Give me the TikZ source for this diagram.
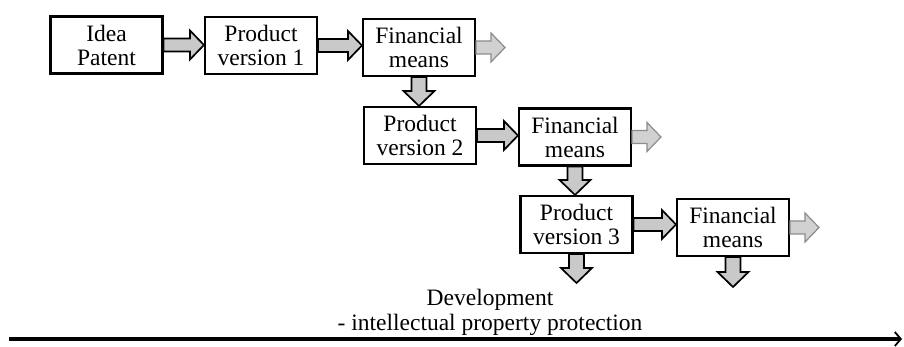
\documentclass[tikz,border=0pt]{standalone}
\usepackage{fontspec}
\setmainfont{Liberation Serif}
\usetikzlibrary{calc,arrows.meta}
\def\sw{6.5}
\def\hw{14.5}
\def\hl{14}
% horizontal block arrow: style, start point, target point (x taken from target, y from start)
\newcommand\harr[3]{%
  \draw[#1] ($(#2)+(0,-\sw)$) -- ($(#3|-#2)+(-\hl,-\sw)$) -- ($(#3|-#2)+(-\hl,-\hw)$) -- (#3|-#2)
    -- ($(#3|-#2)+(-\hl,\hw)$) -- ($(#3|-#2)+(-\hl,\sw)$) -- ($(#2)+(0,\sw)$) -- cycle;}
% vertical (downward) block arrow
\newcommand\varr[3]{%
  \draw[#1] ($(#2)+(-\sw-1,0)$) -- ($(#2|-#3)+(-\sw-1,-\hl-1)$) -- ($(#2|-#3)+(-\hw-1,-\hl-1)$) -- (#2|-#3)
    -- ($(#2|-#3)+(\hw+1,-\hl-1)$) -- ($(#2|-#3)+(\sw+1,-\hl-1)$) -- ($(#2)+(\sw+1,0)$) -- cycle;}
\tikzset{
  box/.style={draw=black, line width=2.1pt, fill=white, minimum width=112pt, minimum height=57pt,
    inner sep=0pt, align=center, font=\fontsize{23.5}{24}\selectfont},
  darr/.style={draw=black, fill=black!21, line width=1.7pt, line join=miter},
  larr/.style={draw=black!45, fill=black!18, line width=1.2pt, line join=miter},
  lbl/.style={align=center, inner sep=0pt, font=\fontsize{23.5}{25}\selectfont},
  timeline/.style={line width=3.2pt, -{Straight Barb[length=6pt,width=14pt,line width=1.8pt]}}
}
\begin{document}
\begin{tikzpicture}[x=1pt,y=-1pt]
\useasboundingbox (0,0) rectangle (904,347);
\node[box] (b1) at (106.5,45) {Idea\\Patent};
\node[box] (b2) at (261,45.5) {Product\\version 1};
\node[box] (b3) at (419,47.5) {Financial\\means};
\node[box] (b4) at (420,135.5) {Product\\version 2};
\node[box] (b5) at (575,137) {Financial\\means};
\node[box] (b6) at (576.5,224.5) {Product\\version 3};
\node[box] (b7) at (733,227.5) {Financial\\means};
\coordinate (l1) at (505,47.5);
\coordinate (l2) at (661,137);
\coordinate (l3) at (819,227.5);
\coordinate (d1) at (576.5,283);
\coordinate (d2) at (733,287);
\harr{darr}{b1.east}{b2.west}
\harr{darr}{b2.east}{b3.west}
\varr{darr}{b3.south}{b4.north}
\harr{darr}{b4.east}{b5.west}
\varr{darr}{b5.south}{b6.north}
\harr{darr}{b6.east}{b7.west}
\varr{darr}{b6.south}{d1}
\varr{darr}{b7.south}{d2}
\harr{larr}{b3.east}{l1}
\harr{larr}{b5.east}{l2}
\harr{larr}{b7.east}{l3}
\node[lbl] (dev) at (490,312) {Development\\- intellectual property protection};
\coordinate (t0) at (9,339);
\coordinate (t1) at (902,339);
\draw[timeline] (t0) -- (t1);
\end{tikzpicture}
\end{document}
